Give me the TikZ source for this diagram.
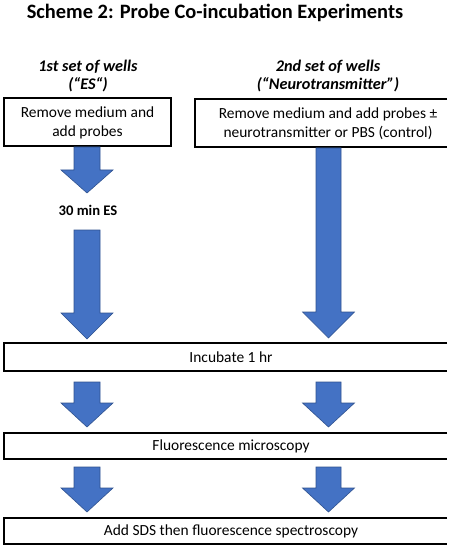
\documentclass[tikz,border=0pt]{standalone}
\usepackage{fontspec}
\setmainfont{Carlito}
\definecolor{arrowblue}{HTML}{4472C4}
\definecolor{arrowedge}{HTML}{2F528F}
\begin{document}
\begin{tikzpicture}[x=1bp,y=-1bp,
  frame/.style={draw=black,line width=1.6bp},
  boxtext/.style={inner sep=0pt,align=center,font=\fontsize{15.5}{19}\selectfont},
  headtext/.style={inner sep=0pt,align=center,font=\fontsize{16.3}{18}\selectfont\bfseries\itshape},
  blockarrow/.style={fill=arrowblue,draw=arrowedge,line width=0.6bp,line join=miter}]
\useasboundingbox (0,0) rectangle (454,550);
\newcommand{\barrow}[5]{% x, top, head start, tip, shaft half width
  \path[blockarrow] (#1-#5,#2) -- (#1+#5,#2) -- (#1+#5,#3) -- (#1+26,#3) -- (#1,#4) -- (#1-26,#3) -- (#1-#5,#3) -- cycle;}

% title
\node[inner sep=0pt,font=\fontsize{20.5}{23}\selectfont\bfseries] (title) at (215,13) {Scheme 2: Probe Co-incubation Experiments};

% headers
\node[headtext] (h1) at (88,76) {1st set of wells\\(“ES“)};
\node[headtext] (h2) at (328,76) {2nd set of wells\\(“Neurotransmitter”)};

% top boxes
\draw[frame] (4,98) rectangle (171,146);
\node[boxtext] (b1) at (87.5,122.5) {Remove medium and\\add probes};
\draw[frame] (447,99) -- (195,99) -- (195,147) -- (447,147);
\node[boxtext] (b2) at (328,123.5) {Remove medium and add probes ±\\neurotransmitter or PBS (control)};

% ES label
\node[inner sep=0pt,font=\fontsize{14.7}{16}\selectfont\bfseries] (es) at (88,210) {30 min ES};

% wide boxes
\draw[frame] (447,343) -- (4,343) -- (4,371) -- (447,371);
\node[boxtext] (inc) at (231,357) {Incubate 1 hr};
\draw[frame] (447,433) -- (4,433) -- (4,459) -- (447,459);
\node[boxtext] (mic) at (231,446) {Fluorescence microscopy};
\draw[frame] (447,518) -- (4,518) -- (4,544) -- (447,544);
\node[boxtext] (sds) at (231,531) {Add SDS then fluorescence spectroscopy};

% arrows
\barrow{87}{147}{170}{193}{13}
\barrow{87}{230}{313}{339}{13}
\barrow{328.5}{148}{312}{338}{12.5}
\barrow{87}{382}{403}{427}{13}
\barrow{328.5}{382}{403}{427}{12.5}
\barrow{87}{467}{488}{512}{13}
\barrow{328.5}{467}{488}{512}{12.5}
\end{tikzpicture}
\end{document}
